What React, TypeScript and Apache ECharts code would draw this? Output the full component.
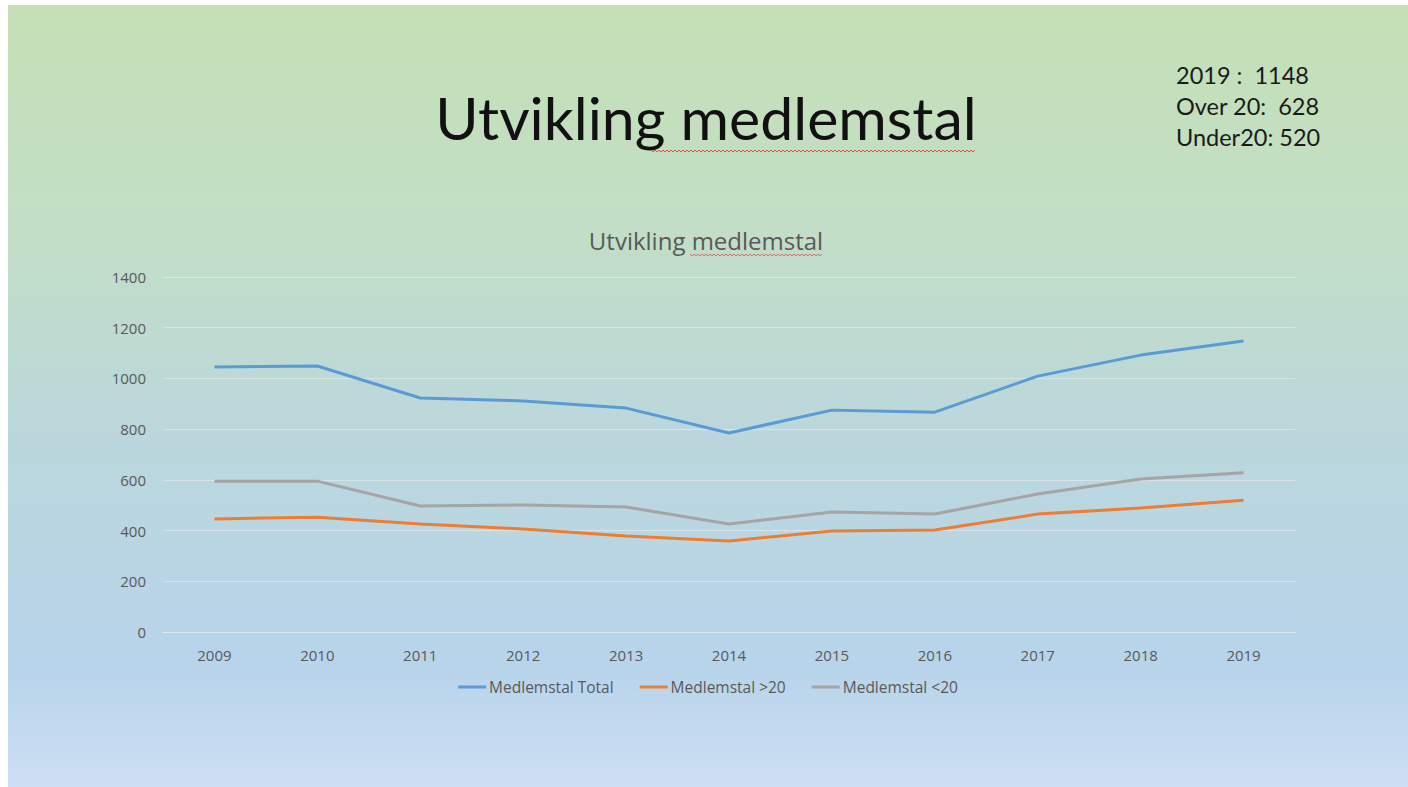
import React, { useEffect, useRef } from "react";
import * as echarts from "echarts";

const years = ["2009", "2010", "2011", "2012", "2013", "2014", "2015", "2016", "2017", "2018", "2019"];
const total = [1045, 1049, 923, 911, 883, 785, 875, 867, 1009, 1092, 1148];
const over20 = [446, 453, 426, 406, 379, 359, 398, 402, 465, 489, 520];
const under20 = [595, 595, 497, 501, 493, 426, 473, 465, 544, 603, 628];
const seriesNames = ["Medlemstal Total", "Medlemstal >20", "Medlemstal <20"];
const seriesColors = ["#5b9bd5", "#ed7d31", "#a5a5a5"];
const noteLines = ["2019 :  1148", "Over 20:  628", "Under20: 520"];

function squiggle(x0: number, x1: number, y: number) {
  const pts: number[][] = [];
  let up = true;
  for (let x = x0; x <= x1; x += 2) {
    pts.push([x, up ? y - 1 : y + 1]);
    up = !up;
  }
  return pts;
}

export default function App() {
  const ref = useRef<HTMLDivElement>(null);
  useEffect(() => {
    if (!ref.current) return;
    const chart = echarts.init(ref.current, null, { renderer: "svg" });
    const font = "'Open Sans', Lato, sans-serif";
    const bigFont = "Lato, 'Open Sans', sans-serif";
    const data = [total, over20, under20];
    chart.setOption({
      animation: false,
      backgroundColor: {
        type: "linear", x: 0, y: 0, x2: 0, y2: 1,
        colorStops: [
          { offset: 0, color: "#c5e0b5" },
          { offset: 0.3, color: "#c2dec7" },
          { offset: 0.55, color: "#bbd7dc" },
          { offset: 0.85, color: "#b8d4eb" },
          { offset: 1, color: "#cddff4" },
        ],
      },
      textStyle: { fontFamily: font },
      grid: { left: 155, right: 113, top: 272, bottom: 155 },
      xAxis: {
        type: "category",
        data: years,
        boundaryGap: true,
        axisLine: { lineStyle: { color: "rgba(225,232,238,0.9)", width: 1 } },
        axisTick: { show: false },
        axisLabel: { color: "#595959", fontSize: 15, margin: 15, fontFamily: font },
      },
      yAxis: {
        type: "value",
        min: 0,
        max: 1400,
        interval: 200,
        axisLine: { show: false },
        axisTick: { show: false },
        splitLine: { lineStyle: { color: "rgba(225,232,238,0.7)", width: 1 } },
        axisLabel: {
          color: "#595959",
          fontSize: 15,
          margin: 17,
          fontFamily: font,
          formatter: (v: number) => String(v),
        },
      },
      legend: {
        bottom: 87,
        left: "center",
        itemWidth: 28,
        itemHeight: 3,
        itemGap: 26,
        icon: "rect",
        textStyle: { color: "#595959", fontSize: 15.5, fontFamily: font, padding: [0, 0, 0, -2] },
        data: seriesNames,
      },
      series: seriesNames.map((n, i) => ({
        name: n,
        type: "line",
        data: data[i],
        showSymbol: false,
        symbol: "none",
        lineStyle: { color: seriesColors[i], width: 3 },
        itemStyle: { color: seriesColors[i] },
      })),
      graphic: [
        {
          type: "text",
          x: 698,
          y: 112,
          style: {
            text: "Utvikling medlemstal",
            fontSize: 59,
            fontFamily: bigFont,
            fill: "#111111",
            textAlign: "center",
            textVerticalAlign: "middle",
          },
        },
        {
          type: "polyline",
          shape: { points: squiggle(643, 967, 146) },
          style: { stroke: "#e05050", lineWidth: 1, fill: "none" },
        },
        {
          type: "text",
          x: 698,
          y: 235,
          style: {
            text: "Utvikling medlemstal",
            fontSize: 24,
            fontFamily: font,
            fill: "#595959",
            textAlign: "center",
            textVerticalAlign: "middle",
          },
        },
        {
          type: "polyline",
          shape: { points: squiggle(682, 814, 250) },
          style: { stroke: "#e05050", lineWidth: 0.8, fill: "none" },
        },
        ...noteLines.map((t, i) => ({
          type: "text",
          x: 1168,
          y: 70 + i * 31,
          style: {
            text: t,
            fontSize: 23.5,
            fontFamily: bigFont,
            fill: "#1a1a1a",
            textAlign: "left",
            textVerticalAlign: "middle",
          },
        })),
      ],
    });
    return () => chart.dispose();
  }, []);
  return (
    <div
      ref={ref}
      style={{ position: "fixed", left: 8, top: 5, width: 1400, height: 782 }}
    />
  );
}
